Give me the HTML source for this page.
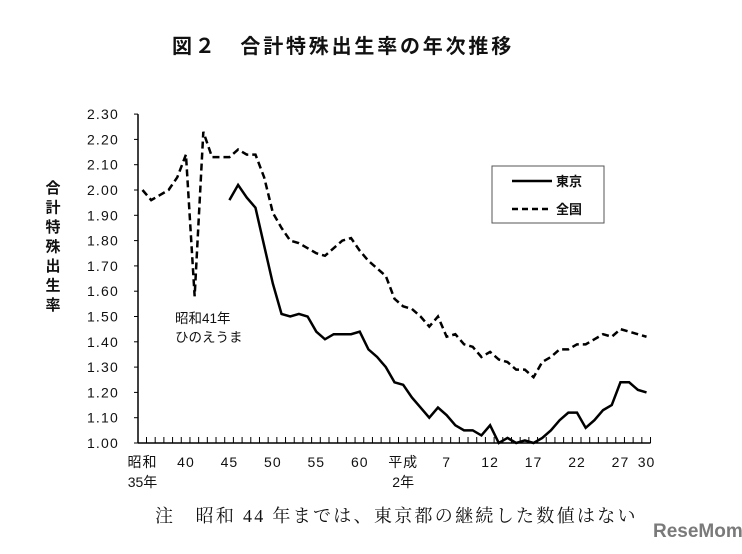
<!DOCTYPE html>
<html><head><meta charset="utf-8"><style>
body{margin:0;background:#fff;width:742px;height:549px;overflow:hidden;font-family:"Liberation Sans","Noto Sans CJK JP",sans-serif}
svg text{font-family:"Liberation Sans","Noto Sans CJK JP",sans-serif}
</style></head><body>
<svg width="742" height="549">
<text x="172" y="53" font-size="20" font-weight="bold" letter-spacing="2.8" fill="#111">図２　合計特殊出生率の年次推移</text>
<text x="53" y="193" font-size="15" font-weight="bold" fill="#111" text-anchor="middle"><tspan x="53" dy="0">合</tspan><tspan x="53" dy="19.5">計</tspan><tspan x="53" dy="19.5">特</tspan><tspan x="53" dy="19.5">殊</tspan><tspan x="53" dy="19.5">出</tspan><tspan x="53" dy="19.5">生</tspan><tspan x="53" dy="19.5">率</tspan></text>
<g id="axes"></g>
<g id="marks"></g>
<text x="175" y="323" font-size="13.5" fill="#111">昭和41年</text>
<text x="175" y="342" font-size="13.5" fill="#111">ひのえうま</text>
<g>
<rect x="492" y="166" width="112" height="57" fill="#fff" stroke="#555" stroke-width="1"/>
<line x1="512" y1="181" x2="552" y2="181" stroke="#000" stroke-width="2.5"/>
<text x="556" y="186" font-size="13" font-weight="bold" fill="#111">東京</text>
<line x1="512" y1="209" x2="552" y2="209" stroke="#000" stroke-width="2.5" stroke-dasharray="6,4"/>
<text x="556" y="214" font-size="13" font-weight="bold" fill="#111">全国</text>
</g>
<text x="155" y="522" font-size="18" letter-spacing="2.3" fill="#111" style="font-family:'Liberation Serif','Noto Serif CJK SC',serif">注　昭和 44 年までは、東京都の継続した数値はない</text>
<text x="653" y="537" font-size="19" font-weight="bold" fill="#7a7a7a">ReseMom</text>
</svg>
<script>
const years=[];for(let y=1960;y<=2018;y++)years.push(y);
const national=[2.00,1.96,1.98,2.00,2.05,2.14,1.58,2.23,2.13,2.13,2.13,2.16,2.14,2.14,2.05,1.91,1.85,1.80,1.79,1.77,1.75,1.74,1.77,1.80,1.81,1.76,1.72,1.69,1.66,1.57,1.54,1.53,1.50,1.46,1.50,1.42,1.43,1.39,1.38,1.34,1.36,1.33,1.32,1.29,1.29,1.26,1.32,1.34,1.37,1.37,1.39,1.39,1.41,1.43,1.42,1.45,1.44,1.43,1.42];
const tokyoYears=[];for(let y=1970;y<=2018;y++)tokyoYears.push(y);
const tokyo=[1.96,2.02,1.97,1.93,1.78,1.63,1.51,1.50,1.51,1.50,1.44,1.41,1.43,1.43,1.43,1.44,1.37,1.34,1.30,1.24,1.23,1.18,1.14,1.10,1.14,1.11,1.07,1.05,1.05,1.03,1.07,1.00,1.02,1.00,1.01,1.00,1.02,1.05,1.09,1.12,1.12,1.06,1.09,1.13,1.15,1.24,1.24,1.21,1.20];
const yTicks=[1.0,1.1,1.2,1.3,1.4,1.5,1.6,1.7,1.8,1.9,2.0,2.1,2.2,2.3];
const xLabelYears=[1960,1965,1970,1975,1980,1985,1990,1995,2000,2005,2010,2015,2018];
const xLabels=["昭和","40","45","50","55","60","平成","7","12","17","22","27","30"];
const X=y=>142.5+(y-1960)*8.69;
const Y=v=>443-(v-1)*253;
const NS='http://www.w3.org/2000/svg';
function mk(t,a,p){const e=document.createElementNS(NS,t);for(const k in a)e.setAttribute(k,a[k]);p.appendChild(e);return e;}
const ax=document.getElementById('axes'),mg=document.getElementById('marks');
const yl=mk('line',{x1:138,y1:Y(2.3),x2:138,y2:443,stroke:'#000','stroke-width':1.5},ax);


const xl=mk('line',{x1:138,y1:443,x2:X(2018)+4,y2:443,stroke:'#000','stroke-width':1.5},ax);


yTicks.forEach(v=>{mk('line',{x1:134,y1:Y(v),x2:138,y2:Y(v),stroke:'#000'},ax);
const t=mk('text',{x:119,y:Y(v)+5,'font-size':14,'letter-spacing':1.2,'text-anchor':'end',fill:'#111'},ax);t.textContent=v.toFixed(2);

});
years.forEach(y=>mk('line',{x1:X(y)+4,y1:437,x2:X(y)+4,y2:443,stroke:'#000','stroke-width':1},ax));
xLabelYears.forEach((y,i)=>{const t=mk('text',{x:X(y),y:467,'font-size':14,'letter-spacing':1,'text-anchor':'middle',fill:'#111'},ax);t.textContent=xLabels[i];

});
[[1960,'35年'],[1990,'2年']].forEach(([y,s])=>{const t=mk('text',{x:X(y),y:487,'font-size':14,'text-anchor':'middle',fill:'#111'},ax);t.textContent=s;

});
const pn=mk('polyline',{points:years.map((y,i)=>X(y)+','+Y(national[i])).join(' '),fill:'none',stroke:'#000','stroke-width':2.5,'stroke-dasharray':'7,4'},mg);


const pt=mk('polyline',{points:tokyoYears.map((y,i)=>X(y)+','+Y(tokyo[i])).join(' '),fill:'none',stroke:'#000','stroke-width':2.5},mg);


</script>
</body></html>
